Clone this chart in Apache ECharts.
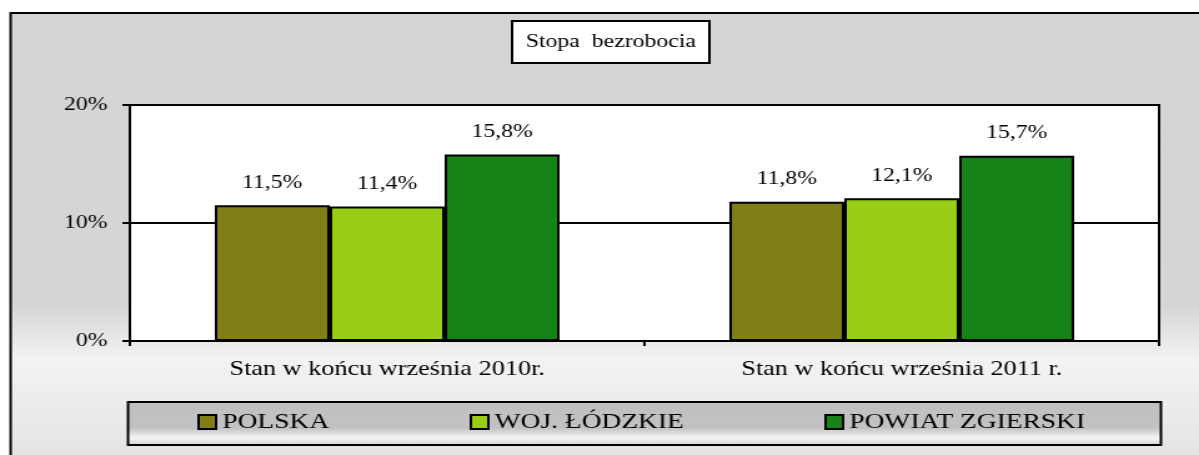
<!DOCTYPE html>
<html>
<head>
<meta charset="utf-8">
<title>Stopa bezrobocia</title>
<script src="https://cdn.jsdelivr.net/npm/echarts@6/dist/echarts.min.js"></script>
<style>
body { margin: 0; background: #fff; overflow: hidden; }
/* oryginalny wykres jest rozciagniety w poziomie */
#myChart { width: 960px; height: 455px; transform: scaleX(1.249); transform-origin: 0 0; }
</style>
</head>
<body>
<div id="myChart"></div>
<script>
// dane
var categories = ['Stan w końcu września 2010r.', 'Stan w końcu września 2011 r.']
var seriesNames = ['POLSKA', 'WOJ. ŁÓDZKIE', 'POWIAT ZGIERSKI']
var polska = [11.5, 11.8]
var lodzkie = [11.4, 12.1]
var zgierski = [15.8, 15.7]
var yTicks = [0, 10, 20]

var colors = ['#807f17', '#9acd15', '#178217']
var serif = '"Liberation Serif", "Times New Roman", serif'

function makeSeries (name, data, color) {
  return {
    name: name,
    type: 'bar',
    data: data,
    barGap: '0%',
    barCategoryGap: '33%',
    itemStyle: { color: color, borderColor: '#000', borderWidth: 2 },
    label: {
      show: true,
      position: 'top',
      distance: 13,
      fontSize: 19,
      fontFamily: serif,
      color: '#000',
      formatter: function (p) {
        return String(p.value).replace('.', ',') + '%'
      }
    }
  }
}

// tlo calego wykresu i ramka legendy
var bgFill = new echarts.graphic.LinearGradient(0, 0, 0, 1, [
  { offset: 0, color: '#d4d4d4' },
  { offset: 0.66, color: '#d6d6d6' },
  { offset: 0.78, color: '#f3f3f3' },
  { offset: 1, color: '#e4e4e4' }
])
var legendFill = new echarts.graphic.LinearGradient(0, 0, 0, 1, [
  { offset: 0, color: '#c0c0c0' },
  { offset: 0.6, color: '#c2c2c2' },
  { offset: 0.82, color: '#f5f5f5' },
  { offset: 1, color: '#d0d0d0' }
])

var legendLeft = [158, 376, 660]

var myChart = echarts.init(document.getElementById('myChart'))
myChart.setOption({
  animation: false,
  title: {
    text: 'Stopa  bezrobocia',
    left: 410,
    top: 21,
    backgroundColor: '#fff',
    borderColor: '#000',
    borderWidth: 2,
    padding: [11, 11],
    textStyle: { fontSize: 19, fontWeight: 'normal', fontFamily: serif, color: '#000', lineHeight: 20 }
  },
  graphic: [
    {
      type: 'rect',
      z: -10,
      silent: true,
      shape: { x: 8.5, y: 13, width: 1000, height: 444 },
      style: { fill: bgFill, stroke: '#000', lineWidth: 2 }
    },
    {
      type: 'rect',
      z: 1,
      silent: true,
      shape: { x: 102.5, y: 402, width: 827, height: 43 },
      style: { fill: legendFill, stroke: '#000', lineWidth: 2 }
    }
  ],
  legend: seriesNames.map(function (name, i) {
    return {
      data: [name],
      left: legendLeft[i],
      top: 411,
      padding: 0,
      icon: 'rect',
      itemWidth: 14,
      itemHeight: 14,
      itemStyle: { borderColor: '#000', borderWidth: 2 },
      textStyle: { fontSize: 22, fontFamily: serif, color: '#000' }
    }
  }),
  grid: {
    left: 104,
    right: 32,
    top: 105,
    height: 236,
    show: true,
    backgroundColor: '#fff',
    borderColor: '#000',
    borderWidth: 2
  },
  xAxis: {
    type: 'category',
    data: categories,
    axisLine: { lineStyle: { color: '#000', width: 2 } },
    axisTick: { show: true, length: 5, lineStyle: { color: '#000', width: 2 } },
    axisLabel: { margin: 18, fontSize: 21, fontFamily: serif, color: '#000' }
  },
  yAxis: {
    type: 'value',
    min: yTicks[0],
    max: yTicks[yTicks.length - 1],
    interval: yTicks[1] - yTicks[0],
    axisLine: { show: true, lineStyle: { color: '#000', width: 2 } },
    axisTick: { show: true, length: 6, lineStyle: { color: '#000', width: 2 } },
    axisLabel: { margin: 18, fontSize: 19, fontFamily: serif, color: '#000', formatter: '{value}%' },
    splitLine: { show: true, lineStyle: { color: '#000', width: 2 } }
  },
  series: [
    makeSeries(seriesNames[0], polska, colors[0]),
    makeSeries(seriesNames[1], lodzkie, colors[1]),
    makeSeries(seriesNames[2], zgierski, colors[2])
  ]
})
</script>
</body>
</html>
